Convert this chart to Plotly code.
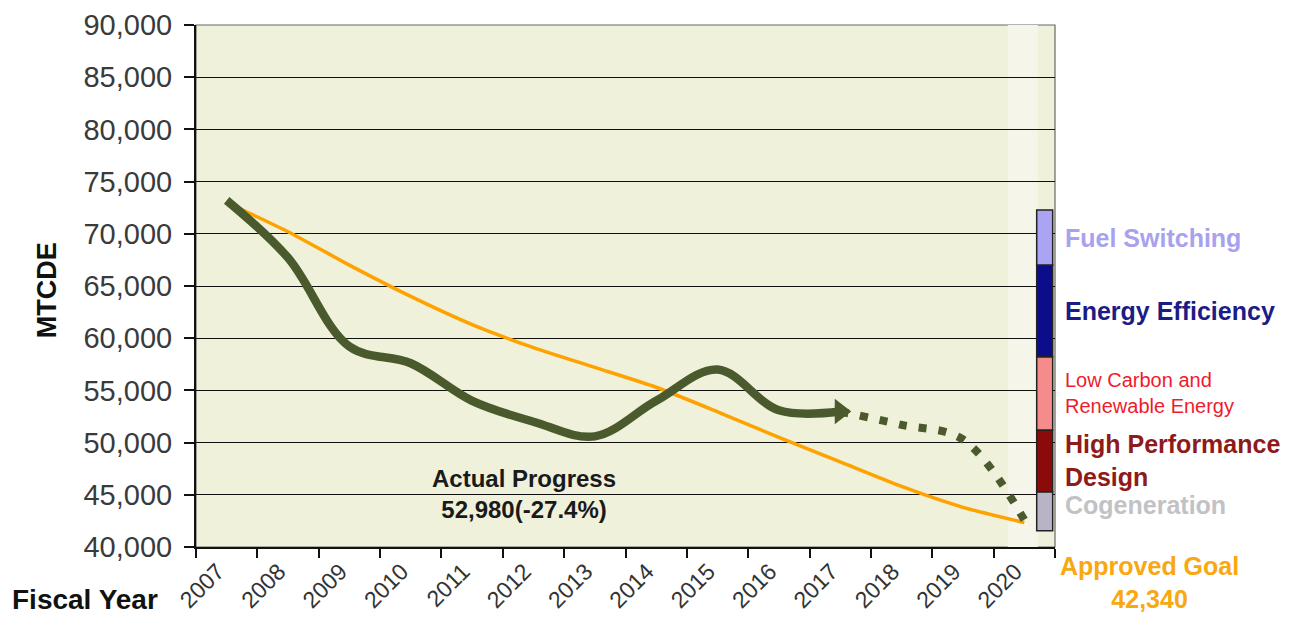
import plotly.graph_objects as go

# ---------------- data ----------------
years = [str(y) for y in range(2007, 2021)]

# Approved goal trajectory (orange)
goal_years = years
goal_values = [73000, 70200, 67000, 64000, 61300, 59100, 57200, 55300,
               52950, 50500, 48150, 45800, 43800, 42340]

# Actual progress (solid dark green) 2007-2017
actual_years = years[:11]
actual_values = [73200, 67700, 59200, 57600, 54000, 52000, 50600, 54000,
                 57000, 53100, 52980]

# Projection (dotted) 2017-2020
proj_years = years[10:]
proj_values = [52980, 51700, 50300, 42600]

# Reduction wedges (bottom to top)
wedge_names = ["Cogeneration", "High Performance Design",
               "Low Carbon and Renewable Energy", "Energy Efficiency",
               "Fuel Switching"]
wedge_bounds = [41560, 45300, 51210, 58230, 67010, 72280]
wedge_colors = ["#b8b4c6", "#8b0a0a", "#f58c8c", "#0d0d8c", "#aaa4f2"]
wedge_label_text = ["Cogeneration", "High Performance<br>Design",
                    "Low Carbon and<br>Renewable Energy", "Energy Efficiency",
                    "Fuel Switching"]
wedge_label_colors = ["#c2c2c6", "#8e1a1a", "#ee1c2c", "#1c1c86", "#a8a2ee"]
wedge_label_sizes = [25, 25, 20, 25, 25]

y_ticks = list(range(40000, 90001, 5000))
goal_label = "Approved Goal<br>42,340"
actual_label = "Actual Progress<br>52,980(-27.4%)"
actual_label_year = "2012"

FONT = "Liberation Sans, Arial, sans-serif"
GREEN = "#4b5a2c"
ORANGE = "#ffa200"

fig = go.Figure()

fig.add_trace(go.Scatter(
    x=goal_years, y=goal_values, mode="lines",
    line=dict(color=ORANGE, width=3.5, shape="spline", smoothing=0.6),
    hoverinfo="skip", showlegend=False))

fig.add_trace(go.Scatter(
    x=proj_years, y=proj_values, mode="lines",
    line=dict(color=GREEN, width=8, shape="spline", smoothing=1.0,
              dash="8px,12px"),
    hoverinfo="skip", showlegend=False))

fig.add_trace(go.Scatter(
    x=actual_years, y=actual_values, mode="lines",
    line=dict(color=GREEN, width=8.5, shape="spline", smoothing=1.0),
    hoverinfo="skip", showlegend=False))

# arrow head at the end of the actual line
fig.add_trace(go.Scatter(
    x=actual_years[-1:], y=actual_values[-1:], mode="markers",
    marker=dict(symbol="triangle-right", size=22, color=GREEN,
                line=dict(width=0)),
    hoverinfo="skip", showlegend=False))

# wedge stack on an overlaying axis
bases = wedge_bounds[:-1]
heights = [wedge_bounds[i + 1] - wedge_bounds[i] for i in range(len(bases))]
fig.add_trace(go.Bar(
    x=[0.988] * len(heights), y=heights, base=bases, width=0.0186,
    marker=dict(color=wedge_colors, line=dict(color="#222222", width=1.5)),
    xaxis="x2", hoverinfo="skip", showlegend=False))

annotations = []
annotations.append(dict(
    x=years.index(actual_label_year), y=45100, xref="x", yref="y",
    text="<b>" + actual_label + "</b>",
    showarrow=False, font=dict(family=FONT, size=24, color="#1a1a1a"),
    align="center", xanchor="center", yanchor="middle", xshift=-9))

for i, name in enumerate(wedge_names):
    mid = (wedge_bounds[i] + wedge_bounds[i + 1]) / 2
    txt = wedge_label_text[i]
    bold = i != 2
    annotations.append(dict(
        x=1.0093, y=mid, xref="paper", yref="y",
        text=("<b>" + txt + "</b>") if bold else txt,
        showarrow=False, xanchor="left", yanchor="middle", align="left",
        yshift=6 if i == 0 else 0,
        font=dict(family=FONT, size=wedge_label_sizes[i],
                  color=wedge_label_colors[i])))

annotations.append(dict(
    x=1.11, y=-0.006, xref="paper", yref="paper",
    text="<b>" + goal_label + "</b>", showarrow=False,
    xanchor="center", yanchor="top", align="center",
    font=dict(family=FONT, size=25, color="#f8a810")))

annotations.append(dict(
    x=-0.1735, y=0.492, xref="paper", yref="paper", text="<b>MTCDE</b>",
    textangle=-90, showarrow=False, xanchor="center", yanchor="middle",
    font=dict(family=FONT, size=27, color="#111111")))

annotations.append(dict(
    x=-0.2165, y=-0.1015, xref="paper", yref="paper", text="<b>Fiscal Year</b>",
    showarrow=False, xanchor="left", yanchor="middle",
    font=dict(family=FONT, size=28, color="#111111")))

for a in annotations:
    fig.add_annotation(**a)

fig.update_layout(
    width=1282, height=615,
    margin=dict(l=188, r=235, t=17, b=76, autoexpand=False),
    paper_bgcolor="white", plot_bgcolor="#eff1da",
    font=dict(family=FONT),
    xaxis=dict(type="category", categoryorder="array", categoryarray=years,
               range=[-0.5, 13.5], tickson="boundaries", ticks="outside",
               ticklen=9, tickcolor="#111", tickwidth=1.5,
               showline=True, linecolor="#111", linewidth=2,
               showgrid=False, tickangle=-45, ticklabelshift=-9,
               automargin=False,
               tickfont=dict(family=FONT, size=23, color="#333333")),
    xaxis2=dict(overlaying="x", range=[0, 1], visible=False),
    yaxis=dict(range=[40000, 90000], tickvals=y_ticks, tickformat=",d",
               ticks="outside", ticklen=10, tickcolor="#111", tickwidth=1.5,
               showline=True, linecolor="#111", linewidth=2,
               showgrid=True, gridcolor="#111111", gridwidth=1.4,
               zeroline=False, ticklabelstandoff=6, automargin=False,
               tickfont=dict(family=FONT, size=29, color="#3a3a3a")),
    shapes=[dict(type="rect", xref="paper", yref="paper", x0=0, x1=1,
                 y0=0, y1=1, line=dict(color="#666666", width=1.2),
                 layer="below"),
            dict(type="rect", xref="paper", yref="paper", x0=0.945, x1=0.98,
                 y0=0, y1=1, line=dict(width=0), fillcolor="#f5f6e9",
                 layer="below")],
)

fig.write_html("out.html")
